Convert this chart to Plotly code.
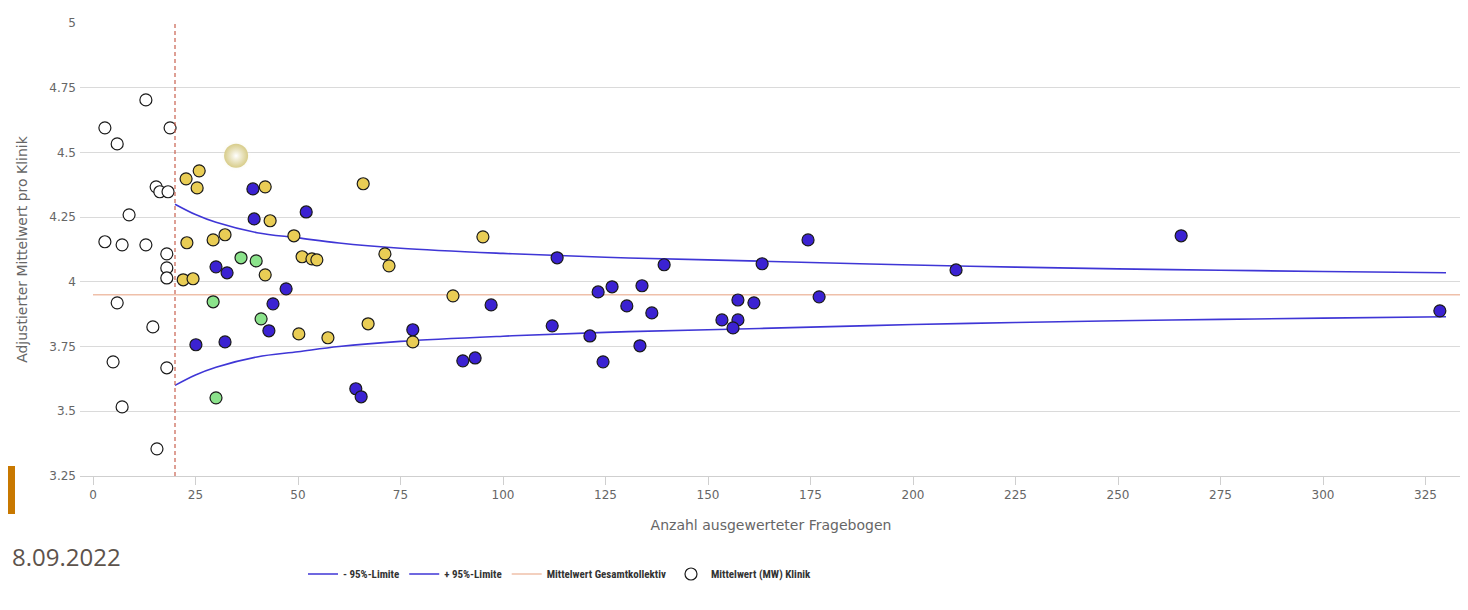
import plotly.graph_objects as go

# Kennzahlen
min_fragebogen = 20
mw_gesamt = 3.95

# 95%-Limiten
limit_n = [20, 25, 30, 40, 50, 60, 75, 100, 125, 150, 175, 200, 225, 250, 275, 300, 330]
limit_plus = [4.30, 4.26, 4.23, 4.19, 4.17, 4.15, 4.13, 4.11, 4.095, 4.085, 4.075, 4.065, 4.057,
              4.05, 4.045, 4.04, 4.035]
limit_minus = [3.60, 3.64, 3.67, 3.71, 3.73, 3.75, 3.77, 3.79, 3.805, 3.815, 3.825, 3.835, 3.843,
               3.85, 3.855, 3.86, 3.865]

# Kliniken unter Mindestanzahl (offen)
offen_n = [2.9, 5.9, 12.9, 18.8, 15.4, 16.3, 18.3, 8.8, 2.9, 7.1, 12.9, 18.0, 18.0, 18.0,
           5.9, 14.6, 4.9, 18.0, 7.1, 15.6]
offen_mw = [4.595, 4.533, 4.703, 4.595, 4.367, 4.348, 4.348, 4.259, 4.155, 4.143, 4.143, 4.108,
            4.054, 4.015, 3.919, 3.826, 3.691, 3.668, 3.517, 3.355]

# gelb
gelb_n = [25.9, 22.7, 25.4, 42.0, 65.9, 43.2, 32.2, 29.3, 22.9, 49.0, 95.1, 51.0, 53.4, 54.6,
          71.2, 72.2, 42.0, 22.0, 24.4, 87.8, 67.1, 50.2, 57.3, 78.0]
gelb_mw = [4.429, 4.398, 4.363, 4.367, 4.379, 4.236, 4.182, 4.162, 4.151, 4.178, 4.174, 4.097,
           4.089, 4.085, 4.108, 4.062, 4.027, 4.008, 4.012, 3.946, 3.838, 3.799, 3.784, 3.768]

# grün
gruen_n = [36.1, 39.8, 29.3, 41.0, 30.0]
gruen_mw = [4.093, 4.081, 3.923, 3.857, 3.552]

# blau
blau_n = [39.0, 52.0, 39.3, 30.0, 32.7, 47.1, 43.9, 42.9, 25.1, 32.2, 78.0, 97.1, 64.1, 65.4,
          90.2, 93.2, 113.2, 139.3, 163.2, 174.4, 210.5, 123.2, 126.6, 133.9, 130.2, 136.3,
          112.0, 121.2, 133.4, 124.4, 157.3, 161.2, 153.4, 157.3, 156.1, 177.1, 265.4, 328.5]
blau_mw = [4.359, 4.270, 4.243, 4.058, 4.035, 3.973, 3.915, 3.811, 3.757, 3.768, 3.815, 3.911,
           3.587, 3.556, 3.695, 3.706, 4.093, 4.066, 4.070, 4.162, 4.046, 3.961, 3.981, 3.985,
           3.907, 3.880, 3.830, 3.791, 3.753, 3.691, 3.930, 3.919, 3.853, 3.853, 3.822, 3.942,
           4.178, 3.888]

# markierte Klinik
markiert_n = [34.9]
markiert_mw = [4.487]

y_ticks = [3.25, 3.5, 3.75, 4, 4.25, 4.5, 4.75, 5]
y_ticktext = ["3.25", "3.5", "3.75", "4", "4.25", "4.5", "4.75", "5"]
x_ticks = list(range(0, 326, 25))

# the page puts the figure 8px in from the top-left corner
OFF = 8
W, H = 1468 - OFF, 610 - OFF
# plot area in page pixels: left 80, right 1462, top 23, bottom 476
ML, MR, MT, MB = 80 - OFF, 1468 - 1462, 23 - OFF, 610 - 476
pw, ph = W - ML - MR, H - MT - MB


def px_x(p):
    return (p - OFF - ML) / pw


def px_y(p):
    return (H - MB - (p - OFF)) / ph


font = "DejaVu Sans, Verdana, sans-serif"
blue_line = "#3f36d6"
pt_line = dict(color="#1a1a1a", width=1.2)

fig = go.Figure()

fig.add_trace(go.Scatter(
    x=limit_n, y=limit_minus, mode="lines", line=dict(color=blue_line, width=1.6, shape="spline"),
    name="<b>- 95%-Limite</b>"))
fig.add_trace(go.Scatter(
    x=limit_n, y=limit_plus, mode="lines", line=dict(color=blue_line, width=1.6, shape="spline"),
    name="<b>+ 95%-Limite</b>"))
fig.add_trace(go.Scatter(
    x=[0, 334], y=[mw_gesamt, mw_gesamt], mode="lines", line=dict(color="#efc0aa", width=1.6),
    name="<b>Mittelwert Gesamtkollektiv</b>"))

fig.add_trace(go.Scatter(
    x=offen_n, y=offen_mw, mode="markers", name="<b>Mittelwert (MW) Klinik</b>",
    marker=dict(size=12, color="white", line=pt_line)))
fig.add_trace(go.Scatter(
    x=gelb_n, y=gelb_mw, mode="markers", showlegend=False,
    marker=dict(size=12, color="#e9cd55", line=pt_line)))
fig.add_trace(go.Scatter(
    x=gruen_n, y=gruen_mw, mode="markers", showlegend=False,
    marker=dict(size=12, color="#8be38b", line=pt_line)))
fig.add_trace(go.Scatter(
    x=blau_n, y=blau_mw, mode="markers", showlegend=False,
    marker=dict(size=12, color="#3b22d2", line=pt_line)))
# Hervorhebung (Glow): Zentrum = gradient.color, Rand = marker.color
fig.add_trace(go.Scatter(
    x=markiert_n, y=markiert_mw, mode="markers", showlegend=False,
    marker=dict(size=32, color="rgba(255,255,255,0)", line=dict(width=0),
                gradient=dict(type="radial", color="rgba(200,188,112,1)"))))
fig.add_trace(go.Scatter(
    x=markiert_n, y=markiert_mw, mode="markers", showlegend=False,
    marker=dict(size=24, color="rgba(214,202,132,0.95)", line=dict(width=0),
                gradient=dict(type="radial", color="#ffffff"))))

# Mindestanzahl
fig.add_shape(type="line", x0=min_fragebogen, x1=min_fragebogen, y0=0, y1=1,
              xref="x", yref="paper", line=dict(color="#c8604f", width=1.2, dash="4px,3px"))

# Seitenelemente
fig.add_shape(type="rect", xref="paper", yref="paper", x0=px_x(OFF), x1=px_x(OFF + 7),
              y0=px_y(514), y1=px_y(466), fillcolor="#c87800", line_width=0)
fig.add_annotation(text="8.09.2022", xref="paper", yref="paper", x=px_x(123), y=px_y(556),
                   xanchor="right", yanchor="middle", showarrow=False,
                   font=dict(family="Open Sans, sans-serif", size=24, color="#5d534c"))

fig.update_layout(
    width=W, height=H,
    margin=dict(l=ML, r=MR, t=MT, b=MB),
    paper_bgcolor="white", plot_bgcolor="white",
    font=dict(family=font, color="#666"),
    showlegend=True,
    legend=dict(orientation="h", x=px_x(560), xanchor="center", y=px_y(574), yanchor="middle",
                font=dict(family="Liberation Sans Narrow, Roboto Condensed, Roboto, sans-serif",
                          size=11, color="#333"),
                itemwidth=30, bgcolor="rgba(0,0,0,0)"),
    xaxis=dict(
        range=[(80 - 93) / 4.1, (1462 - 93) / 4.1], tickvals=x_ticks, showgrid=False, zeroline=False,
        showline=True, linecolor="#cfcfcf", ticks="outside", ticklen=8, tickcolor="#cfcfcf",
        tickfont=dict(size=12, color="#666"),
        title=dict(text="Anzahl ausgewerteter Fragebogen", font=dict(size=14, color="#666"), standoff=18)),
    yaxis=dict(
        range=[3.25, 5], tickvals=y_ticks, ticktext=y_ticktext, showgrid=True, gridcolor="#dadada",
        zeroline=False, showline=False, ticks="", tickfont=dict(size=12, color="#666"),
        ticklabelstandoff=3,
        title=dict(text="Adjustierter Mittelwert pro Klinik", font=dict(size=14, color="#666"), standoff=18)),
)

fig.write_html("out.html")
